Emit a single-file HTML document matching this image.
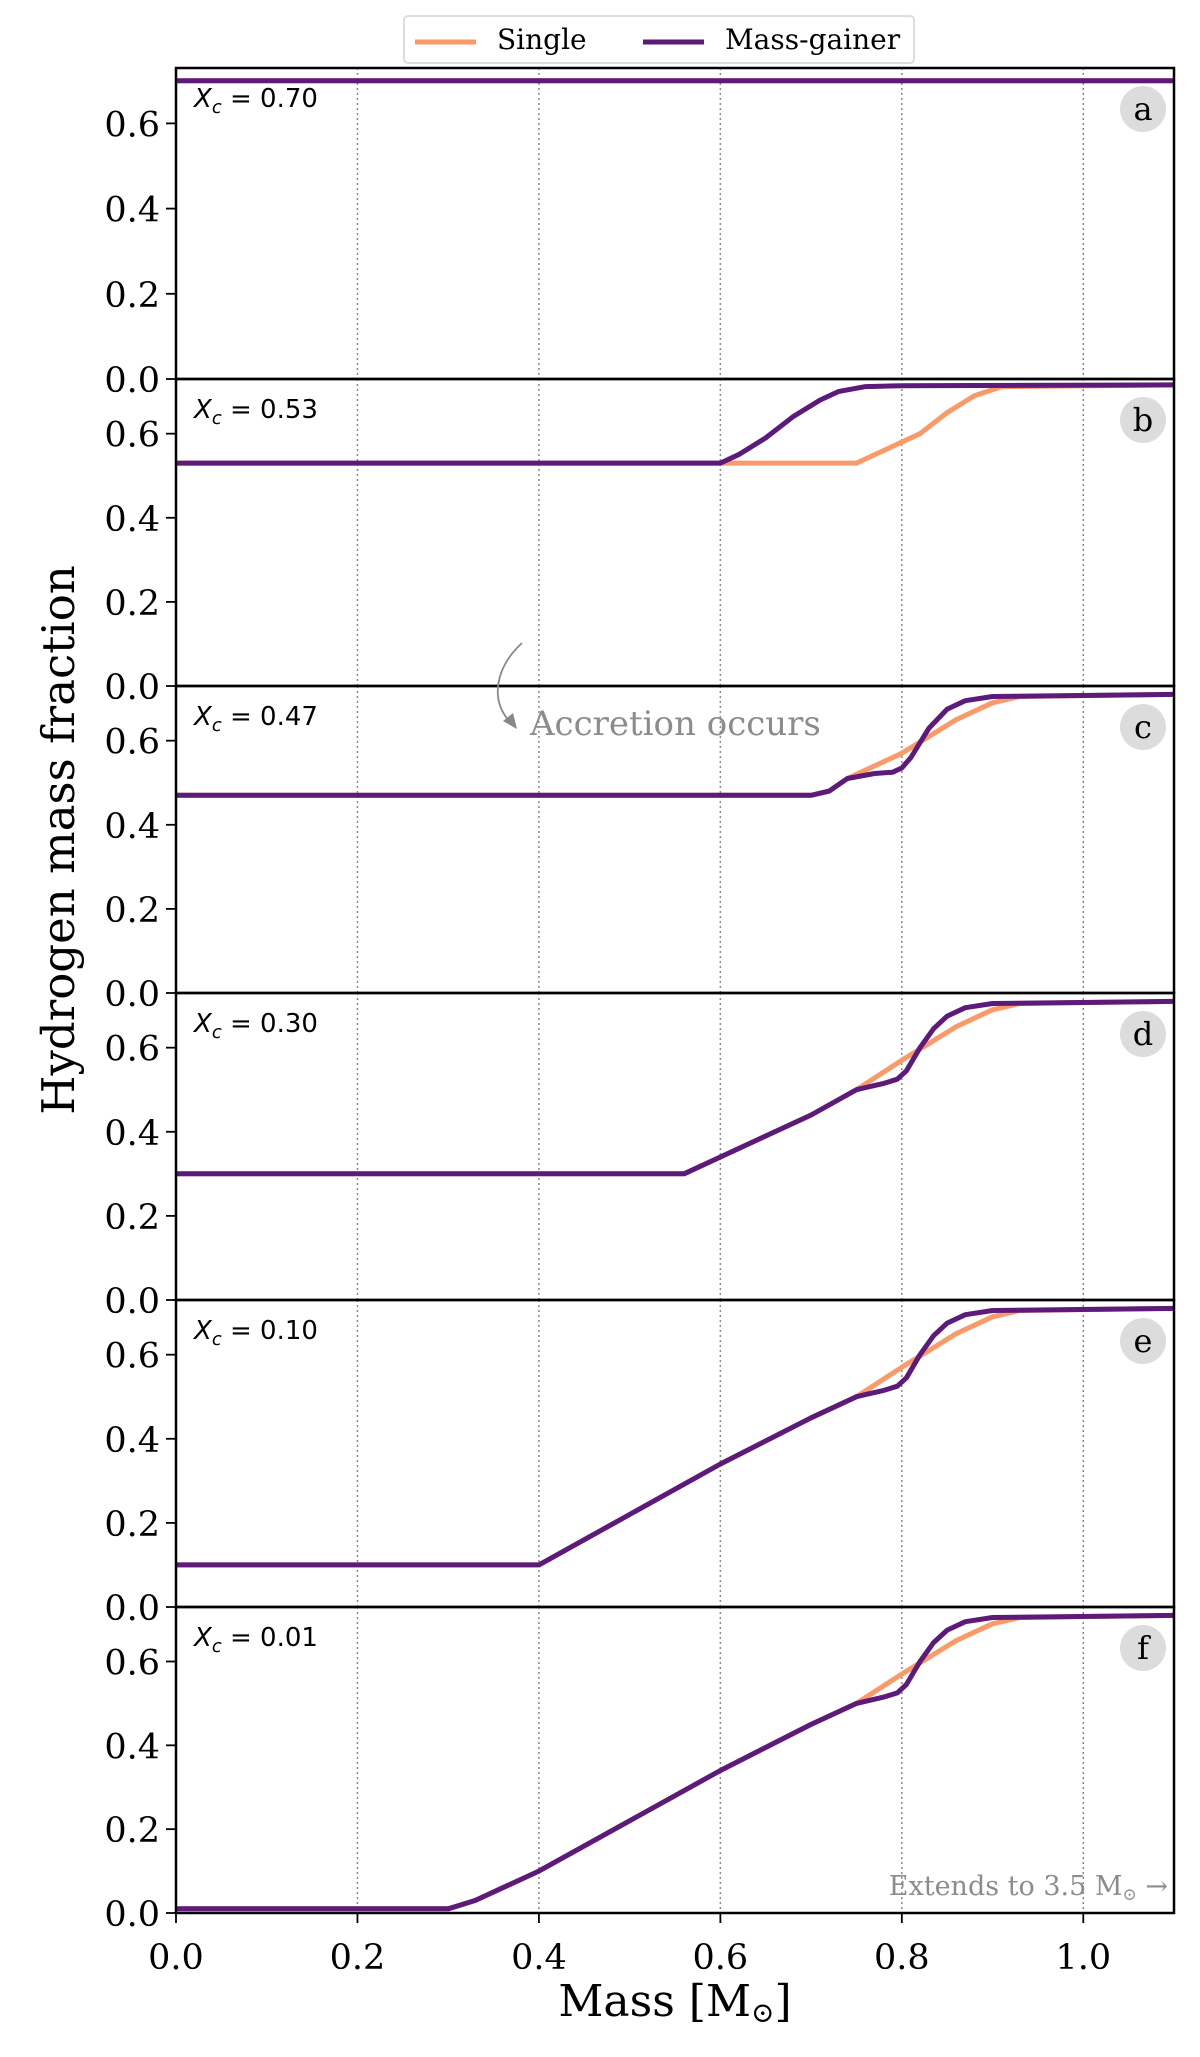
<!DOCTYPE html>
<html><head><meta charset="utf-8"><style>
html,body{margin:0;padding:0;background:#fff;}
svg{display:block;font-family:"DejaVu Serif","Liberation Serif",serif;}
</style></head><body>
<svg id="chart" width="1200" height="2057" viewBox="0 0 1200 2057" xmlns="http://www.w3.org/2000/svg">
<g id="legend">
<rect x="404" y="16" width="510" height="47" rx="4" fill="#fff" stroke="#ddd" stroke-width="2"/>
<line x1="415" y1="42" x2="476" y2="42" stroke="#fb9a69" stroke-width="5"/>
<text x="497" y="49" font-size="28">Single</text>
<line x1="643" y1="42" x2="704" y2="42" stroke="#5c1a7a" stroke-width="5"/>
<text x="725" y="49" font-size="28">Mass-gainer</text>
</g>
<g id="panels"></g>
<text transform="translate(74,840) rotate(-90)" text-anchor="middle" font-size="45">Hydrogen mass fraction</text>
<text x="675" y="2016" text-anchor="middle" font-size="44">Mass [M<tspan font-size="28" dy="6">⊙</tspan><tspan dy="-6">]</tspan></text>
</svg>
<script>
const panelLabels = ['a','b','c','d','e','f'];
const xcValues = ['0.70','0.53','0.47','0.30','0.10','0.01'];
const yTicks = [0, 0.2, 0.4, 0.6];
const xTicks = [0, 0.2, 0.4, 0.6, 0.8, 1.0];
const xTickLabels = ['0.0','0.2','0.4','0.6','0.8','1.0'];
const yTickLabels = ['0.0','0.2','0.4','0.6'];
const tail = [[0.76,0.505],[0.78,0.515],[0.795,0.525],[0.805,0.545],[0.82,0.60],[0.835,0.645],[0.85,0.675],[0.87,0.695],[0.9,0.705],[1.1,0.71]];
const tailS = [[0.8,0.57],[0.83,0.61],[0.86,0.65],[0.9,0.69],[0.93,0.705],[1.1,0.71]];
const singleA = [[0,0.70],[1.1,0.70]];
const gainerA = [[0,0.70],[1.1,0.70]];
const singleB = [[0,0.53],[0.75,0.53],[0.8,0.58],[0.82,0.60],[0.85,0.65],[0.88,0.69],[0.91,0.712],[1.1,0.716]];
const gainerB = [[0,0.53],[0.6,0.53],[0.62,0.55],[0.65,0.59],[0.68,0.64],[0.71,0.68],[0.73,0.70],[0.76,0.712],[0.8,0.714],[1.1,0.716]];
const singleC = [[0,0.47],[0.70,0.47],[0.72,0.48],[0.74,0.51],[0.8,0.57],[0.83,0.61],[0.86,0.65],[0.9,0.69],[0.93,0.705],[1.1,0.71]];
const gainerC = [[0,0.47],[0.70,0.47],[0.72,0.48],[0.74,0.51],[0.77,0.522],[0.79,0.525],[0.80,0.535],[0.81,0.56],[0.83,0.63],[0.85,0.675],[0.87,0.695],[0.9,0.705],[1.1,0.71]];
const rampD = [[0,0.30],[0.56,0.30],[0.6,0.34],[0.65,0.39],[0.7,0.44],[0.75,0.5]];
const rampE = [[0,0.10],[0.40,0.10],[0.5,0.22],[0.6,0.34],[0.7,0.45],[0.75,0.5]];
const rampF = [[0,0.01],[0.30,0.01],[0.33,0.03],[0.36,0.06],[0.4,0.10],[0.5,0.22],[0.6,0.34],[0.7,0.45],[0.75,0.5]];
const singleSeries = [singleA, singleB, singleC, rampD.concat(tailS), rampE.concat(tailS), rampF.concat(tailS)];
const gainerSeries = [gainerA, gainerB, gainerC, rampD.concat(tail), rampE.concat(tail), rampF.concat(tail)];

const NS='http://www.w3.org/2000/svg';
const X0=176, X1=1174, XMAX=1.1, YMAX=0.73;
const tops=[68,379,686,993,1300,1607], bottom=1913;
function xs(m){return X0+(X1-X0)*m/XMAX;}
function mk(tag,attrs,parent){const e=document.createElementNS(NS,tag);for(const k in attrs)e.setAttribute(k,attrs[k]);parent.appendChild(e);return e;}
const root=document.getElementById('panels');
for(let p=0;p<6;p++){
  const top=tops[p], bot=(p<5?tops[p+1]:bottom), h=bot-top;
  const ys=v=>bot-h*v/YMAX;
  const g=mk('g',{},root);
  
  
  for(let i=1;i<xTicks.length;i++){
    const l=mk('line',{x1:xs(xTicks[i]),x2:xs(xTicks[i]),y1:top,y2:bot,stroke:'#888','stroke-width':1.5,'stroke-dasharray':'2,3'},g);
    
    
  }
  for(let i=0;i<yTicks.length;i++){
    const y=ys(yTicks[i]);
    const t=mk('line',{x1:X0-10,x2:X0,y1:y,y2:y,stroke:'#000','stroke-width':1.8},g);
    
    
    const tx=mk('text',{x:X0-16,y:y+13,'text-anchor':'end','font-size':35},g);
    tx.textContent=yTickLabels[i];
    
    
  }
  const series=[[singleSeries[p],'#fb9a69','single-line'],[gainerSeries[p],'#5c1a7a','mass-gainer-line']];
  for(const [pts,col,nm] of series){
    const path=mk('polyline',{points:pts.map(q=>xs(q[0]).toFixed(1)+','+ys(q[1]).toFixed(1)).join(' '),fill:'none',stroke:col,'stroke-width':5,'stroke-linejoin':'round'},g);
    
    
  }
  const lab=mk('text',{x:X0+18,y:top+39,'font-size':26,'font-family':'DejaVu Sans, sans-serif'},g);
  lab.innerHTML='<tspan font-style="italic">X</tspan><tspan font-style="italic" font-size="18" dy="6">c</tspan><tspan dy="-6"> =  '+xcValues[p]+'</tspan>';
  
  
  const c=mk('circle',{cx:1143,cy:top+41,r:23,fill:'#dcdcdc'},g);
  
  
  const ct=mk('text',{x:1143,y:top+52,'text-anchor':'middle','font-size':32},g);
  ct.textContent=panelLabels[p];
  
  
  const fr=mk('rect',{x:X0,y:top,width:X1-X0,height:h,fill:'none',stroke:'#000','stroke-width':2.5},g);
  
  
}
for(let i=0;i<xTicks.length;i++){
  const x=xs(xTicks[i]);
  const t=mk('line',{x1:x,x2:x,y1:bottom,y2:bottom+10,stroke:'#000','stroke-width':1.8},root);
  
  
  const tx=mk('text',{x:x,y:bottom+56,'text-anchor':'middle','font-size':35},root);
  tx.textContent=xTickLabels[i];
  
  
}
const arr=mk('path',{d:'M522,643 C495,668 490,700 510,722',fill:'none',stroke:'#888','stroke-width':1.8},root);


const ah=mk('polygon',{points:'517,729 503,721 513,713',fill:'#888'},root);


const at=mk('text',{x:530,y:735,'font-size':34,fill:'#8c8c8c'},root);
at.textContent='Accretion occurs';


const et=mk('text',{x:1168,y:1895,'font-size':27,fill:'#8c8c8c','text-anchor':'end'},root);
et.innerHTML='Extends to 3.5 M<tspan font-size="17" dy="5">⊙</tspan><tspan dy="-5"> →</tspan>';


</script>
</body></html>
